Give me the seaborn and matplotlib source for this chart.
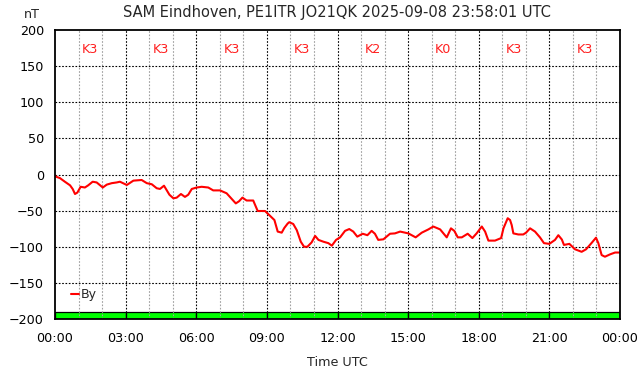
import numpy as np
import pandas as pd
import matplotlib
matplotlib.use("Agg")
import matplotlib.pyplot as plt
import seaborn as sns

# magnetometer By component, hours since 00:00 UTC and nT
hours = [0.0, 0.04, 0.21, 0.42, 0.64, 0.75, 0.85, 0.95, 1.09, 1.27, 1.41, 1.60, 1.77,
         2.03, 2.20, 2.41, 2.62, 2.76, 3.05, 3.33, 3.68, 3.90, 4.11, 4.32, 4.46, 4.63,
         4.75, 4.86, 5.03, 5.17, 5.35, 5.52, 5.66, 5.81, 6.02, 6.23, 6.51, 6.72, 7.01,
         7.29, 7.51, 7.68, 7.82, 7.96, 8.14, 8.42, 8.61, 8.92, 9.13, 9.32, 9.46, 9.63,
         9.74, 9.88, 9.95, 10.12, 10.27, 10.44, 10.58, 10.72, 10.90, 11.05, 11.19, 11.40,
         11.61, 11.76, 11.94, 12.11, 12.32, 12.50, 12.67, 12.84, 13.07, 13.27, 13.45,
         13.59, 13.73, 13.95, 14.23, 14.44, 14.66, 15.01, 15.32, 15.58, 15.86, 16.07,
         16.36, 16.64, 16.82, 16.96, 17.11, 17.28, 17.53, 17.73, 17.91, 18.13, 18.27,
         18.41, 18.69, 18.95, 19.05, 19.23, 19.33, 19.40, 19.47, 19.68, 19.89, 20.01,
         20.18, 20.39, 20.60, 20.77, 21.00, 21.24, 21.38, 21.53, 21.62, 21.85, 22.09,
         22.37, 22.56, 22.80, 22.98, 23.08, 23.22, 23.36, 23.58, 23.79, 24.0]
by_nt = [-1, -3, -5, -10, -15, -20, -27, -25, -17, -18, -15, -10, -11,
         -18, -14, -12, -11, -10, -14.5, -8.5, -7.6, -12, -13.5, -19, -20, -15.5,
         -22, -28, -33, -32, -27, -31, -28, -20, -18, -17, -18, -22, -22,
         -26, -34, -40, -37, -32, -36, -36, -50.5, -50.5, -57, -63, -79, -80.5,
         -74, -68, -66, -68.5, -77, -93, -100, -100, -94, -85, -90.5, -93,
         -95, -98.5, -90.5, -87, -78, -75.5, -79, -86, -82, -84, -78,
         -82, -90.5, -89.7, -82, -81.5, -79, -81.5, -87, -80.5, -76, -72,
         -76, -87, -74.5, -78, -87, -87, -82, -88, -81.5, -72, -79,
         -91.5, -91.5, -88, -74.5, -60.5, -63, -70, -81.5, -83, -83, -80.5,
         -74.5, -79, -87, -95, -96, -90.5, -84, -90, -97.5, -96, -103.5,
         -107, -103.5, -94.5, -87.5, -95, -111.5, -113.8, -110.5, -108, -108]

# K-index per 3 hour block
k_start = [0, 3, 6, 9, 12, 15, 18, 21]
k_index = [3, 3, 3, 3, 2, 0, 3, 3]
k_bar = [9, 9, 9, 9, 9, 9, 9, 9]

xtick_pos = [0, 3, 6, 9, 12, 15, 18, 21, 24]
xtick_labels = ["00:00", "03:00", "06:00", "09:00", "12:00", "15:00", "18:00", "21:00", "00:00"]
ytick_pos = [-200, -150, -100, -50, 0, 50, 100, 150, 200]

df = pd.DataFrame({"hour": hours, "By": by_nt})

sns.set_style("white")
plt.rcParams["font.family"] = ["DejaVu Sans"]

fig = plt.figure(figsize=(6.42, 3.76), dpi=100)
ax = fig.add_axes([55 / 642, 1 - 319 / 376, 565 / 642, 289 / 376])

# K-index bars along the bottom
ax.bar([s + 1.5 for s in k_start], k_bar, width=3, bottom=-200,
       color="#00ff00", edgecolor="black", linewidth=0.9, zorder=1)

dots = (0, (1.5, 1.5))
for h in range(1, 24):
    if h % 3:
        ax.axvline(h, color="#a0a0a0", lw=0.8, ls=dots, zorder=2)
    else:
        ax.axvline(h, color="black", lw=0.8, ls=dots, zorder=2)
for v in ytick_pos[:-1]:
    ax.axhline(v, color="black", lw=0.8, ls=dots, zorder=2)

sns.lineplot(data=df, x="hour", y="By", color="red", lw=1.5, ax=ax,
             label="By", zorder=3)

for s, k in zip(k_start, k_index):
    ax.text(s + 1.5, 173, f"K{k}", color="#ff2020", fontsize=9.2,
            ha="center", va="center")

ax.set_xlim(0, 24)
ax.set_ylim(-200, 200)
ax.set_xticks(xtick_pos)
ax.set_xticklabels(xtick_labels)
ax.set_yticks(ytick_pos)
ax.tick_params(axis="both", labelsize=9.2, length=0, pad=8, colors="black")
ax.tick_params(axis="x", pad=9)
ax.set_xlabel("")
ax.set_ylabel("")
for sp in ax.spines.values():
    sp.set_color("black")
    sp.set_linewidth(1.3)
    sp.set_zorder(4)

leg = ax.legend(loc="lower left", bbox_to_anchor=(0.018, 0.04), frameon=False,
                handlelength=0.6, handletextpad=0.15, fontsize=9,
                borderpad=0)

fig.text(337 / 642, 1 - 12 / 376, "SAM Eindhoven, PE1ITR JO21QK 2025-09-08 23:58:01 UTC",
         ha="center", va="center", fontsize=10.5)
fig.text(32 / 642, 1 - 15 / 376, "nT", ha="center", va="center", fontsize=9.2)
fig.text(337 / 642, 1 - 362 / 376, "Time UTC", ha="center", va="center", fontsize=9.2)

fig.savefig("out.png", dpi=100)
